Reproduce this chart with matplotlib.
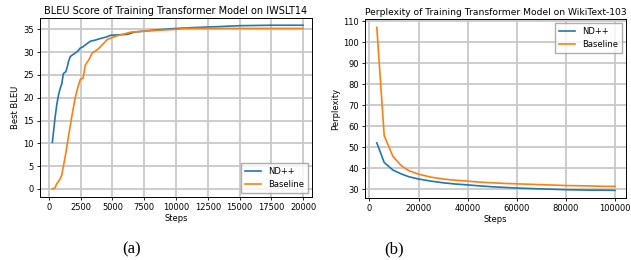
import numpy as np
import matplotlib
matplotlib.use("Agg")
import matplotlib.pyplot as plt

# (a) BLEU on IWSLT14
bleu_nd_steps = [270, 480, 620, 750, 880, 1010, 1140, 1330, 1450, 1540, 1680, 1850, 2070,
                 2300, 2470, 2700, 2870, 3270, 3600, 4070, 4500, 4870, 5500, 6200, 6730,
                 7500, 8500, 10050, 11500, 13380, 15000, 17500, 20000]
bleu_nd = [10.2, 15.5, 18.5, 20.5, 22.0, 23.0, 25.3, 25.7, 26.8, 27.9, 29.0, 29.4, 29.8,
           30.3, 30.9, 31.2, 31.6, 32.4, 32.6, 33.0, 33.3, 33.7, 33.8, 33.9, 34.4,
           34.6, 34.9, 35.2, 35.4, 35.6, 35.8, 35.9, 35.9]
bleu_base_steps = [270, 480, 610, 750, 880, 1010, 1140, 1280, 1540, 1810, 2070, 2300, 2470,
                   2690, 2870, 3140, 3400, 3800, 4200, 4600, 5270, 5930, 6460, 8060,
                   10050, 10720, 12500, 15000, 17500, 20000]
bleu_base = [0.0, 0.2, 1.1, 1.6, 2.2, 3.0, 5.0, 7.0, 11.5, 16.0, 20.0, 22.5, 24.0,
             24.3, 27.2, 28.3, 29.8, 30.5, 31.6, 32.8, 33.5, 34.0, 34.4, 34.7,
             35.0, 35.2, 35.2, 35.2, 35.2, 35.2]

# (b) Perplexity on WikiText-103
ppl_steps = [3000, 6000, 9500, 13000, 16000, 20000, 25000, 30000, 35000, 40000, 45000,
             50000, 55000, 60000, 65000, 70000, 75000, 80000, 85000, 90000, 95000, 100000]
ppl_nd = [52.0, 42.7, 39.1, 37.2, 35.9, 34.8, 33.8, 33.0, 32.4, 32.0, 31.5,
          31.1, 30.8, 30.5, 30.3, 30.1, 29.9, 29.7, 29.6, 29.5, 29.5, 29.4]
ppl_base = [107.0, 55.5, 45.7, 41.1, 38.8, 37.1, 35.7, 34.8, 34.2, 33.8, 33.3,
            33.0, 32.7, 32.5, 32.3, 32.1, 31.9, 31.7, 31.6, 31.5, 31.3, 31.3]

blue = "#1f77b4"
orange = "#ff7f0e"

plt.rcParams["font.family"] = "DejaVu Sans"
fig = plt.figure(figsize=(6.31, 2.60), dpi=100)

ax1 = fig.add_axes([0.0634, 0.242, 0.431, 0.689])
ax2 = fig.add_axes([0.5785, 0.238, 0.4136, 0.689])

for ax in (ax1, ax2):
    ax.grid(True, color="#c8c8c8", linewidth=1.3)
    ax.set_axisbelow(True)
    ax.tick_params(labelsize=6, length=2.5, width=0.6, pad=2)
    for s in ax.spines.values():
        s.set_linewidth(0.7)

ax1.plot(bleu_nd_steps, bleu_nd, color=blue, lw=1.2, label="ND++")
ax1.plot(bleu_base_steps, bleu_base, color=orange, lw=1.2, label="Baseline")
ax1.set_xlim(-700, 20700)
ax1.set_ylim(-1.8, 37.5)
ax1.set_xticks(np.arange(0, 20001, 2500))
ax1.set_yticks(np.arange(0, 36, 5))
ax1.set_title("BLEU Score of Training Transformer Model on IWSLT14", fontsize=7, pad=3)
ax1.set_xlabel("Steps", fontsize=6, labelpad=1)
ax1.set_ylabel("Best BLEU", fontsize=6, labelpad=2)
ax1.legend(loc="lower right", fontsize=6, handlelength=2.0, borderpad=0.45,
           fancybox=False, edgecolor="#999999")

ax2.plot(ppl_steps, ppl_nd, color=blue, lw=1.2, label="ND++")
ax2.plot(ppl_steps, ppl_base, color=orange, lw=1.2, label="Baseline")
ax2.set_xlim(-1800, 104500)
ax2.set_ylim(25.7, 111)
ax2.set_xticks(np.arange(0, 100001, 20000))
ax2.set_yticks(np.arange(30, 111, 10))
ax2.set_title("Perplexity of Training Transformer Model on WikiText-103", fontsize=6.6, pad=3)
ax2.set_xlabel("Steps", fontsize=6, labelpad=1)
ax2.set_ylabel("Perplexity", fontsize=6, labelpad=2)
ax2.legend(loc="upper right", fontsize=6, handlelength=2.0, borderpad=0.45,
           fancybox=False, edgecolor="#999999")

fig.text(0.209, 0.025, "(a)", fontsize=12, family="Liberation Serif", ha="center")
fig.text(0.625, 0.025, "(b)", fontsize=12, family="Liberation Serif", ha="center")

fig.savefig("out.png", dpi=100)
